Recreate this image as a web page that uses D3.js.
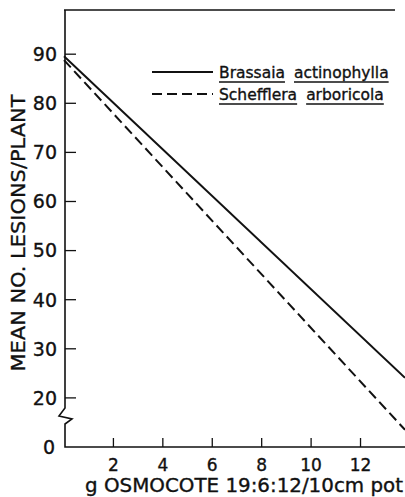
<!DOCTYPE html>
<html>
<head>
<meta charset="utf-8">
<script src="https://cdn.jsdelivr.net/npm/d3@7"></script>
<style>
  body { margin: 0; background: #fff; }
  text { font-family: "DejaVu Sans", sans-serif; fill: #111; stroke: #111; stroke-width: 0.35px; }
</style>
</head>
<body>
<div id="chart"></div>
<script>
// fitted regression lines, read at the ends of the x range
const xEnds = [0, 13.8];
const brassaia = [89.6, 24.1];
const schefflera = [88.8, 13.5];
const xTicks = [2, 4, 6, 8, 10, 12];
const yTicks = [20, 30, 40, 50, 60, 70, 80, 90];
const seriesNames = [["Brassaia", "actinophylla"], ["Schefflera", "arboricola"]];

const width = 405, height = 497;
const svg = d3.select("#chart").append("svg")
    .attr("width", width).attr("height", height);

// y axis is broken: the bottom of the frame is labelled 0 but sits where 10 would be
const x = d3.scaleLinear().domain([0, 13.8]).range([64, 405]);
const y = d3.scaleLinear().domain([10, 99]).range([447, 10]);

const ink = "#111";

// frame: top line, left axis with zigzag break, bottom axis
svg.append("line").attr("x1", 64).attr("x2", 395).attr("y1", y(99)).attr("y2", y(99))
    .attr("stroke", ink).attr("stroke-width", 1.6);
svg.append("path")
    .attr("d", d3.line()([[65, y(99)], [65, 408], [59, 416], [72, 419], [65, 424], [65, y(10)], [405, y(10)]]))
    .attr("fill", "none").attr("stroke", ink).attr("stroke-width", 1.6);

// y ticks (inward)
svg.selectAll(".yt").data(yTicks).join("line")
    .attr("x1", 65).attr("x2", 76)
    .attr("y1", d => y(d)).attr("y2", d => y(d))
    .attr("stroke", ink).attr("stroke-width", 1.3);
svg.selectAll(".yl").data(yTicks).join("text")
    .attr("x", 57).attr("y", d => y(d)).attr("dy", "0.36em")
    .attr("text-anchor", "end").style("font-size", "19px")
    .text(d => d);
svg.append("text").attr("x", 55).attr("y", y(10)).attr("dy", "0.36em")
    .attr("text-anchor", "end").style("font-size", "19px").text("0");

// x ticks (inward)
svg.selectAll(".xt").data(xTicks).join("line")
    .attr("x1", d => x(d)).attr("x2", d => x(d))
    .attr("y1", y(10)).attr("y2", y(10) - 9)
    .attr("stroke", ink).attr("stroke-width", 1.3);
svg.selectAll(".xl").data(xTicks).join("text")
    .attr("x", d => x(d)).attr("y", 471)
    .attr("text-anchor", "middle").style("font-size", "17px")
    .text(d => d);

// axis titles
svg.append("text").attr("x", 244).attr("y", 492)
    .attr("text-anchor", "middle").style("font-size", "19px")
    .attr("textLength", 318).attr("lengthAdjust", "spacingAndGlyphs")
    .text("g OSMOCOTE 19:6:12/10cm pot");
svg.append("text")
    .attr("transform", "translate(25,233) rotate(-90)")
    .attr("text-anchor", "middle").style("font-size", "20px")
    .attr("textLength", 277).attr("lengthAdjust", "spacingAndGlyphs")
    .text("MEAN NO. LESIONS/PLANT");

// regression lines
const line = d3.line().x((d, i) => x(xEnds[i])).y(d => y(d));
svg.append("path").attr("d", line(brassaia))
    .attr("fill", "none").attr("stroke", ink).attr("stroke-width", 2);
svg.append("path").attr("d", line(schefflera))
    .attr("fill", "none").attr("stroke", ink).attr("stroke-width", 2)
    .attr("stroke-dasharray", "10,5");

// legend
const legY = [72, 94];
seriesNames.forEach((words, i) => {
  svg.append("line").attr("x1", 152).attr("x2", 213)
      .attr("y1", legY[i]).attr("y2", legY[i])
      .attr("stroke", ink).attr("stroke-width", 2)
      .attr("stroke-dasharray", i === 1 ? "10,5" : null);
  let cx = 219;
  words.forEach(w => {
    const t = svg.append("text").attr("x", cx).attr("y", legY[i] + 6)
        .style("font-size", "15.5px").text(w);
    const len = t.node().getComputedTextLength();
    svg.append("line").attr("x1", cx).attr("x2", cx + len)
        .attr("y1", legY[i] + 10).attr("y2", legY[i] + 10)
        .attr("stroke", ink).attr("stroke-width", 1.6);
    cx += len + 9;
  });
});
</script>
</body>
</html>
